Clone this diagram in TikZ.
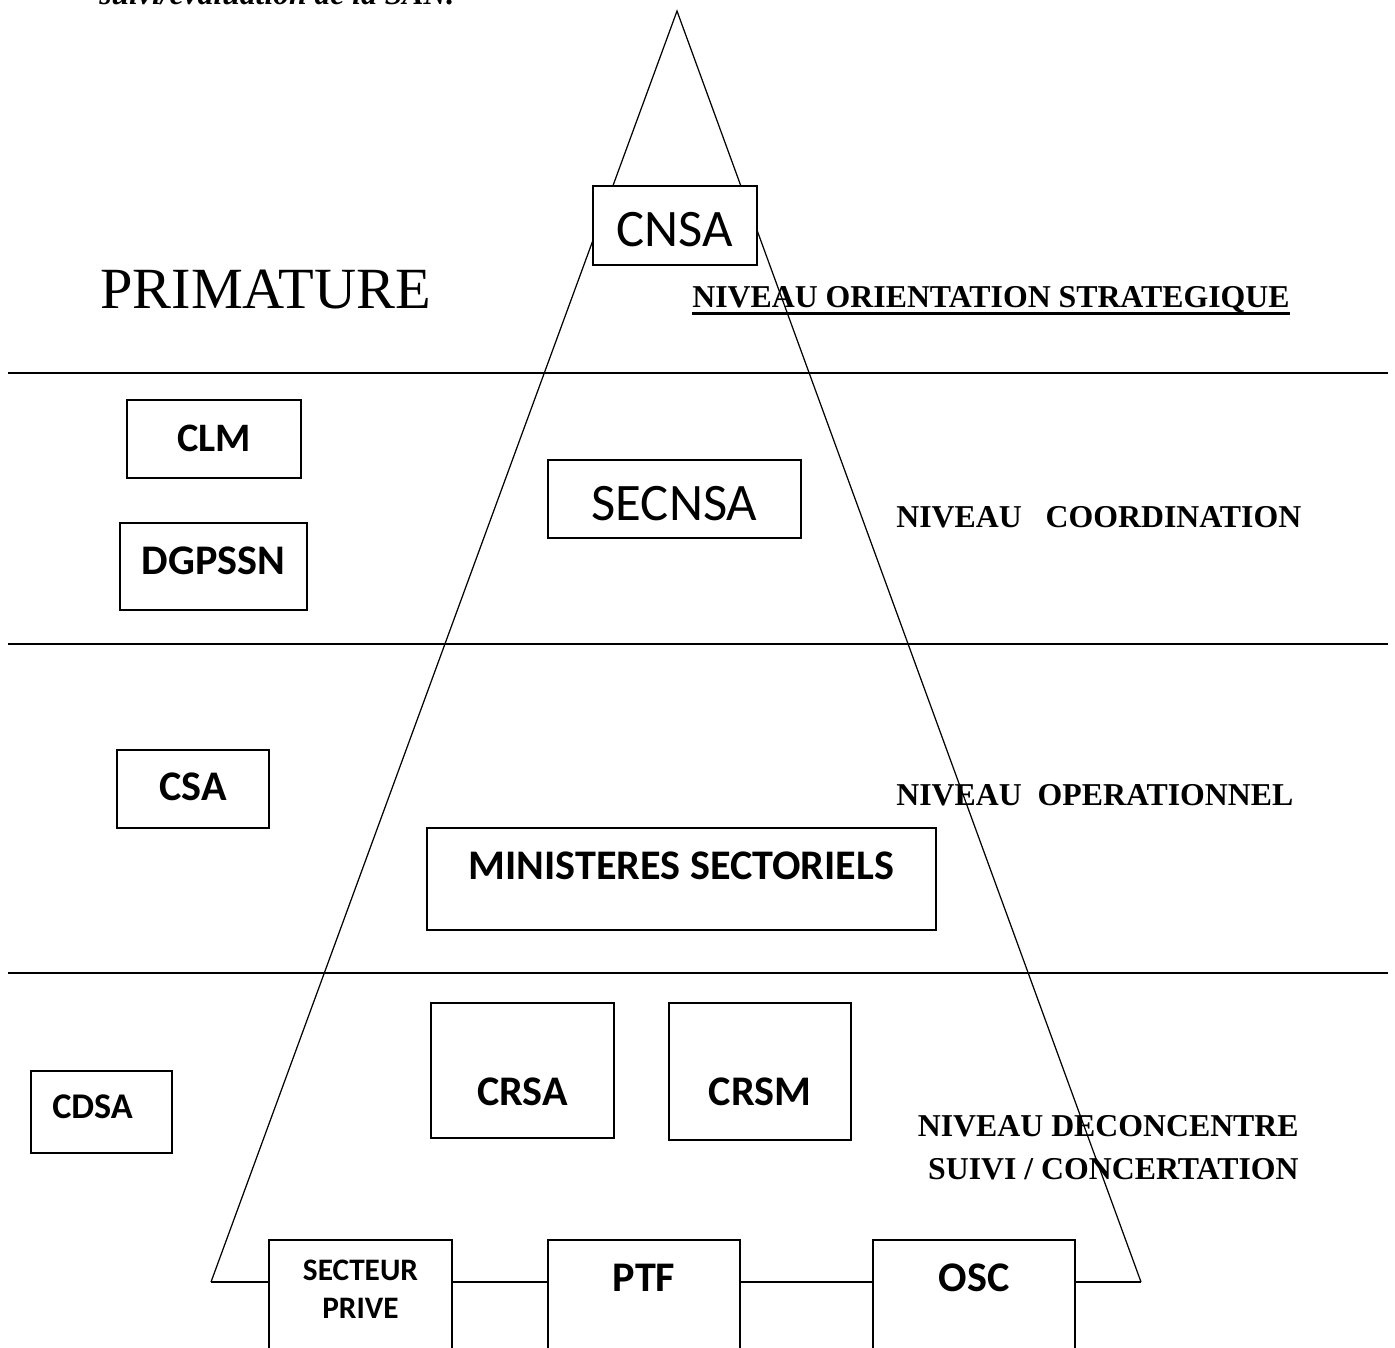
\documentclass[tikz,border=0pt]{standalone}
\usepackage{fontspec}
\setmainfont{Liberation Serif}
\newfontfamily\carl{Carlito}
\usetikzlibrary{calc}
\begin{document}
\begin{tikzpicture}[x=0.02cm,y=-0.02cm,
  box/.style={draw, fill=white, line width=0.9pt, inner sep=0pt, text depth=0pt},
  reg/.style={font=\carl\fontsize{30}{36}\selectfont},
  bld/.style={font=\carl\bfseries\fontsize{24}{29}\selectfont},
  lvl/.style={font=\bfseries\fontsize{18.1}{24.4}\selectfont, inner sep=0pt},
  thinline/.style={line width=0.7pt}]
\useasboundingbox (0,0) rectangle (1395,1347);
\clip (0,0) rectangle (1395,1347);

% cut-off caption at top
\node[anchor=base west, inner sep=0pt, font=\bfseries\itshape\fontsize{18}{22}\selectfont] (cap) at (99,4) {suivi/évaluation de la SAN.};

% level separators
\draw[thinline] (8,373) -- (1388,373);
\draw[thinline] (8,644) -- (1388,644);
\draw[thinline] (8,973) -- (1388,973);

% pyramid
\coordinate (apex) at (677,11);
\coordinate (bl) at (211,1282);
\coordinate (br) at (1141,1282);
\draw[thinline] (bl) -- (apex) -- (br);

% labels
\node[anchor=base west, inner sep=0pt, font=\fontsize{33.2}{40}\selectfont] (prim) at (100,308) {PRIMATURE};
\node[lvl, anchor=base west] (ori) at (692,307) {NIVEAU ORIENTATION STRATEGIQUE};
\draw[line width=1.6pt] ($(ori.base west)+(0,6.5)$) -- ($(ori.base east)+(0,6.5)$);
\node[lvl, anchor=base west] (coord) at (896,527) {NIVEAU\ \ \ COORDINATION};
\node[lvl, anchor=base west] (oper) at (896,805) {NIVEAU\ \ OPERATIONNEL};
\node[lvl, anchor=base east] (dec) at (1299,1179) {\begin{tabular}[b]{@{}r@{}}NIVEAU DECONCENTRE\\SUIVI / CONCERTATION\end{tabular}};

% boxes
\node[box, reg, minimum width=3.28cm, minimum height=1.58cm, text height=24.4pt] (cnsa) at (675,225.5) {CNSA};
\node[box, reg, minimum width=5.06cm, minimum height=1.56cm, text height=24.9pt] (secnsa) at (674.5,499) {SECNSA};
\node[box, bld, font=\carl\bfseries\fontsize{23}{28}\selectfont, minimum width=3.48cm, minimum height=1.56cm, text height=14.7pt] (clm) at (214,439) {CLM};
\node[box, bld, minimum width=3.74cm, minimum height=1.74cm, text height=9.6pt] (dgpssn) at (213.5,566.5) {DGPSSN};
\node[box, bld, minimum width=3.04cm, minimum height=1.56cm, text height=13.6pt] (csa) at (193,789) {CSA};
\node[box, bld, minimum width=10.18cm, minimum height=2.04cm, text height=1.1pt] (min) at (681.5,879) {MINISTERES SECTORIELS};
\node[box, bld, minimum width=3.66cm, minimum height=2.70cm, text height=40.3pt] (crsa) at (522.5,1070.5) {CRSA};
\node[box, bld, minimum width=3.64cm, minimum height=2.74cm, text height=39.1pt] (crsm) at (760,1071.5) {CRSM};
\node[box, font=\carl\bfseries\fontsize{20.6}{24}\selectfont, minimum width=2.82cm, minimum height=1.64cm, text height=6.8pt] (cdsa) at (101.5,1112) {CDSA\hspace*{10.2pt}};
\node[box, font=\carl\bfseries\fontsize{17.8}{21.5}\selectfont, minimum width=3.66cm, minimum height=3.2cm, text height=0pt, text depth=2.3pt] (sp) at (360.5,1320) {\begin{tabular}[b]{@{}c@{}}SECTEUR\\PRIVE\end{tabular}};
\node[box, bld, minimum width=3.84cm, minimum height=3.2cm, text height=0pt, text depth=32.9pt] (ptf) at (644,1320) {PTF};
\node[box, bld, minimum width=4.04cm, minimum height=3.2cm, text height=0pt, text depth=32.9pt] (osc) at (974,1320) {OSC};

% base of the pyramid through the partner boxes
\draw[thinline] (bl) -- (bl -| sp.west);
\draw[thinline] (sp.east |- bl) -- (ptf.west |- bl);
\draw[thinline] (ptf.east |- bl) -- (osc.west |- bl);
\draw[thinline] (osc.east |- br) -- (br);
\end{tikzpicture}
\end{document}
